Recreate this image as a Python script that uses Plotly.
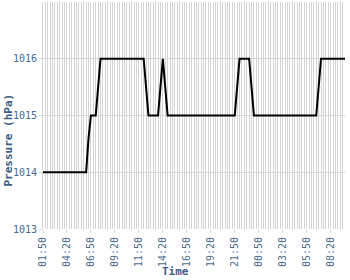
import plotly.graph_objects as go

# Pressure readings (hPa), one every ~15 minutes
pressure = [
    1014, 1014, 1014, 1014, 1014, 1014, 1014, 1014, 1014, 1014,
    1014, 1014, 1014, 1014, 1014, 1014, 1014, 1014, 1014, 1014.6,
    1015, 1015, 1015, 1015.5, 1016, 1016, 1016, 1016, 1016, 1016,
    1016, 1016, 1016, 1016, 1016, 1016, 1016, 1016, 1016, 1016,
    1016, 1016, 1016, 1015.5, 1015, 1015, 1015, 1015, 1015, 1015.5,
    1016, 1015.5, 1015, 1015, 1015, 1015, 1015, 1015, 1015, 1015,
    1015, 1015, 1015, 1015, 1015, 1015, 1015, 1015, 1015, 1015,
    1015, 1015, 1015, 1015, 1015, 1015, 1015, 1015, 1015, 1015,
    1015, 1015.5, 1016, 1016, 1016, 1016, 1016, 1015.5, 1015, 1015,
    1015, 1015, 1015, 1015, 1015, 1015, 1015, 1015, 1015, 1015,
    1015, 1015, 1015, 1015, 1015, 1015, 1015, 1015, 1015, 1015,
    1015, 1015, 1015, 1015, 1015, 1015.5, 1016, 1016, 1016, 1016,
    1016, 1016, 1016, 1016, 1016, 1016, 1016,
]

# Labelled time ticks (every 10th reading)
tick_labels = ["01:50", "04:20", "06:50", "09:20", "11:50", "14:20", "16:50",
               "19:20", "21:50", "00:50", "03:20", "05:50", "08:20"]
label_step = 10

y_ticks = [1013, 1014, 1015, 1016]

x = list(range(len(pressure)))
tick_pos = [i * label_step for i in range(len(tick_labels))]

label_color = "#4a6a8c"
title_color = "#3d5d83"
grid_color = "#d4d4d4"
mono = "DejaVu Sans Mono"

fig = go.Figure()
fig.add_trace(go.Scatter(x=x, y=pressure, mode="lines",
                         line=dict(color="black", width=2), showlegend=False))

L, R, T, B = 42.5, 5, 2, 51
W, H = 350, 280

fig.update_layout(
    width=W, height=H,
    margin=dict(l=L, r=R, t=T, b=B, pad=0),
    paper_bgcolor="white", plot_bgcolor="white",
    font=dict(family=mono, size=10, color=label_color),
)
fig.update_xaxes(
    range=[0, len(pressure) - 1],
    tickmode="array", tickvals=tick_pos, ticktext=tick_labels,
    tickangle=-90, ticks="outside", ticklen=3, tickcolor=grid_color,
    showgrid=True, gridcolor=grid_color, gridwidth=1,
    minor=dict(tickmode="linear", tick0=0, dtick=1, showgrid=True,
               gridcolor=grid_color, gridwidth=1, ticks=""),
    showline=False, zeroline=False,
    tickfont=dict(family=mono, size=10, color=label_color),
)
fig.update_yaxes(
    range=[1013, 1017],
    tickmode="array", tickvals=y_ticks,
    ticks="outside", ticklen=3, tickcolor=grid_color,
    showgrid=True, gridcolor=grid_color, gridwidth=1,
    showline=True, linecolor=grid_color, linewidth=1,
    zeroline=False,
    tickfont=dict(family=mono, size=10, color=label_color),
)

pw = W - L - R
ph = H - T - B
fig.add_annotation(
    text="<b>Time</b>", xref="paper", yref="paper",
    x=(175 - L) / pw, y=-(271 - (T + ph)) / ph,
    showarrow=False, xanchor="center", yanchor="middle",
    font=dict(family=mono, size=11, color=title_color),
)
fig.add_annotation(
    text="<b>Pressure (hPa)</b>", xref="paper", yref="paper",
    x=-(L - 7) / pw, y=(T + ph - 140) / ph,
    showarrow=False, xanchor="center", yanchor="middle", textangle=-90,
    font=dict(family=mono, size=11, color=title_color),
)

fig.write_html("out.html")
